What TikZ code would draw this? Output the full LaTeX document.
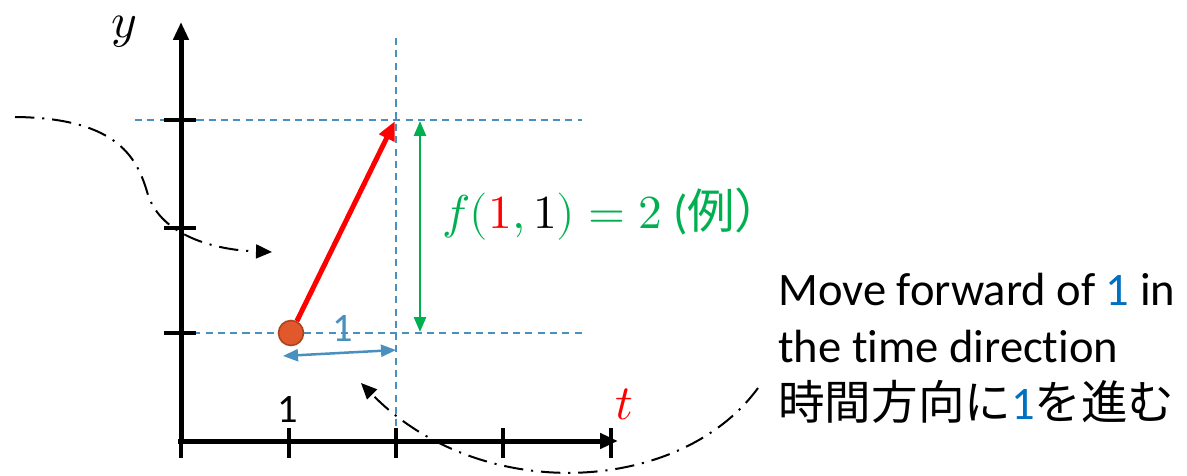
\documentclass[tikz,border=0pt]{standalone}
\usepackage{fontspec}
\usepackage{unicode-math}
\setmainfont{Carlito}[Ligatures=NoCommon]
\setmathfont{Latin Modern Math}
\newfontfamily\cjk{Noto Sans CJK JP}
\usepackage{tikz}
\usetikzlibrary{arrows.meta, positioning, calc}
\definecolor{gridblue}{RGB}{74, 144, 190}
\definecolor{unitblue}{RGB}{0, 112, 192}
\definecolor{valgreen}{RGB}{0, 176, 80}
\definecolor{dotfill}{RGB}{224, 88, 43}
\definecolor{dotedge}{RGB}{170, 68, 32}

\begin{document}
\begin{tikzpicture}[
  x=0.02cm, y=-0.02cm,
  axis/.style      = {line width=0.1cm, -{Triangle[length=0.36cm, width=0.3cm]}},
  tick/.style      = {line width=0.07cm},
  guide/.style     = {draw=gridblue, line width=0.6pt, dash pattern=on 4pt off 3pt},
  stepArrow/.style = {line width=0.1cm, color=red, -{Triangle[length=0.38cm, width=0.32cm]}},
  valArrow/.style  = {line width=0.05cm, color=valgreen, {Triangle[length=0.3cm, width=0.24cm]}-{Triangle[length=0.3cm, width=0.24cm]}},
  unitArrow/.style = {line width=0.05cm, color=gridblue, {Triangle[length=0.3cm, width=0.24cm]}-{Triangle[length=0.3cm, width=0.24cm]}},
  hint/.style      = {line width=0.04cm, dash pattern=on 11pt off 4.5pt on 1.2pt off 4.5pt, -{Triangle[length=0.32cm, width=0.28cm]}},
  lbl/.style       = {font=\fontsize{23}{27}\selectfont, inner sep=0pt},
  note/.style      = {font=\fontsize{26.5}{32.5}\selectfont, align=left, inner sep=0pt},
]
\useasboundingbox (0,0) rectangle (1187,476);

%% Axes
\coordinate (O)  at (181,441);
\coordinate (ty) at (181,22);
\coordinate (tx) at (618,441);
\draw[axis] ($(O)+(0,3)$) -- (ty);
\draw[axis] ($(O)+(-3,0)$) -- (tx);

%% Guide lines
\draw[guide] (135,120) -- (582,120);
\draw[guide] (181,333) -- (584,333);
\draw[guide] (396,38) -- (396,441);

%% Ticks
\foreach \x in {289, 396, 503, 611}
  \draw[tick] (\x,428) -- (\x,458);
\draw[tick] (181,441) -- (181,458);
\foreach \y in {120, 228, 333}
  \draw[tick] (164,\y) -- (196,\y);

%% Axis labels
\node[lbl, font=\fontsize{28}{30}\selectfont] (ylab) at (124,32) {$y$};
\node[lbl, text=red, font=\fontsize{28}{30}\selectfont] (tlab) at (624,404) {$t$};
\node[lbl] (one) at (288,409) {1};

%% Step
\node[circle, fill=dotfill, draw=dotedge, line width=0.9pt, minimum size=0.5cm, inner sep=0pt] (p0) at (291,333) {};
\coordinate (p1) at (395,121);
\draw[stepArrow] (p0) -- (p1);

%% Unit step along t
\coordinate (u0) at (283,356);
\coordinate (u1) at (396,350);
\draw[unitArrow] (u0) -- (u1);
\node[lbl, text=gridblue] (ulab) at (343,328) {1};

%% Value of f
\coordinate (v0) at (420,121);
\coordinate (v1) at (420,332);
\draw[valArrow] (v0) -- (v1);
\node[lbl, text=valgreen, anchor=west, font=\fontsize{27}{32}\selectfont] (flab) at (442,214)
  {$f(\textcolor{red}{1},\textcolor{black}{1})=2$ ({\cjk 例）}};

%% Explanation
\node[note, anchor=north west] (expl) at (778,273)
  {Move forward of \textcolor{unitblue}{1} in\\
   the time direction\\
   {\cjk 時間方向に}\textcolor{unitblue}{1}{\cjk を進む}};

%% Hint curves
\coordinate (h0) at (15,117);
\coordinate (h1) at (272,252);
\draw[hint] (h0) .. controls (120,118) and (138,160) .. (148,195)
                  .. controls (162,236) and (215,250) .. (h1);
\coordinate (h2) at (758,388);
\coordinate (h3) at (361,383);
\draw[hint] (h2) .. controls (680,495) and (480,505) .. (h3);

\end{tikzpicture}
\end{document}
